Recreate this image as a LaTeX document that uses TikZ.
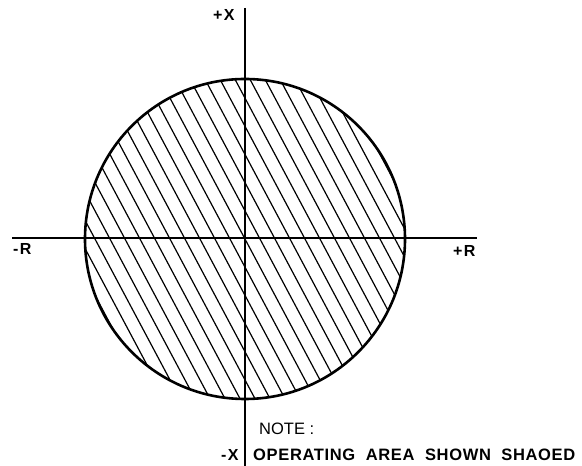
\documentclass[tikz,border=0pt]{standalone}
\usepackage{fontspec}
\setmainfont{Liberation Sans}
\usepackage{tikz}
\usetikzlibrary{positioning, calc}
\newfontfamily\spacedbold[LetterSpace=4]{Liberation Sans}
\newfontfamily\labelbold[LetterSpace=8]{Liberation Sans}

\tikzset{
  axislabel/.style={font=\fontsize{16}{16}\labelbold\bfseries, inner sep=0pt, anchor=base west},
  axisline/.style={line width=1.5pt},
  hatchline/.style={line width=1.2pt}
}

\begin{document}
\begin{tikzpicture}[x=1pt, y=1pt]
  \useasboundingbox (0,0) rectangle (582,466);
  \coordinate (c) at (245,227);
  \coordinate (xtop) at (245,458);
  \coordinate (xbot) at (245,0);
  \coordinate (rleft) at (12,228);
  \coordinate (rright) at (477,228);

  % shaded operating area
  \begin{scope}
    \clip (c) circle (160);
    \foreach \k in {-13,...,13}{
      \draw[hatchline] ($(c)+(\k*15,0)+(-0.47*200,0.883*200)$) -- ($(c)+(\k*15,0)+(0.47*200,-0.883*200)$);
    }
  \end{scope}
  \draw[line width=2.6pt] (c) circle (160);

  \draw[axisline] (xtop) -- (xbot);
  \draw[axisline] (rleft) -- (rright);

  \node[axislabel] (plusx) at (213,445) {+X};
  \node[axislabel] (minusr) at (13,211) {-R};
  \node[axislabel] (plusr) at (453,209) {+R};
  \node[axislabel] (minusx) at (221,5.5) {-X};
  \node[anchor=base west, inner sep=0pt, font=\fontsize{16.5}{16.5}\selectfont] (note) at (259,31) {NOTE :};
  \node[axislabel, font=\fontsize{16.5}{16.5}\spacedbold\bfseries] (area) at (253,5.5) {OPERATING\ \ AREA\ \ SHOWN\ \ SHAOED};
\end{tikzpicture}
\end{document}
